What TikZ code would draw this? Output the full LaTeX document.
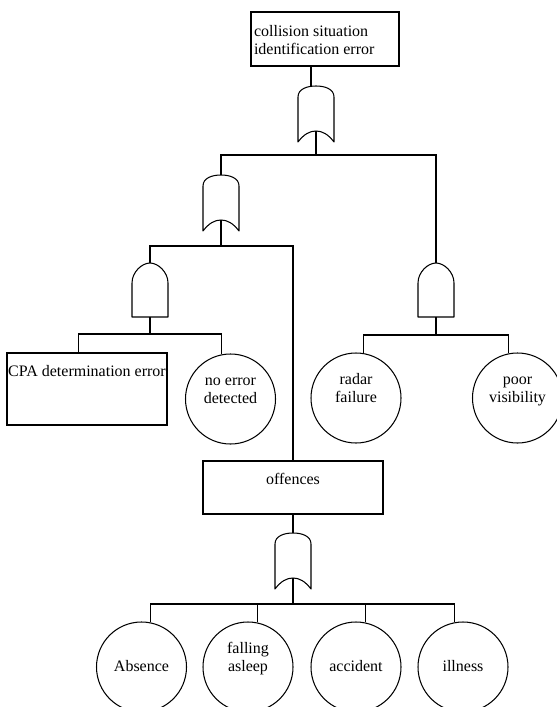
\documentclass[tikz,border=0pt]{standalone}
\usepackage{fontspec}
\setmainfont{Liberation Serif}
\newcommand\twoline[2]{\vbox{\halign{\hfil##\hfil\cr #1\cr #2\cr}}}
\tikzset{
  orgate/.pic={
    \coordinate (-top) at (0,0);
    \coordinate (-topl) at (-5,0.6);
    \coordinate (-in) at (0,45);
    \draw[line join=round] (-18,56) -- (-18,11) .. controls (-18,3) and (-9,0) .. (0,0)
      .. controls (9,0) and (18,3) .. (18,11) -- (18,56)
      .. controls (12,48) and (6,45) .. (0,45)
      .. controls (-6,45) and (-12,48) .. (-18,56) -- cycle;
  },
  andgate/.pic={
    \coordinate (-top) at (0,0);
    \coordinate (-in) at (0,54);
    \draw[line join=round] (-18,54) -- (-18,20) .. controls (-18,9) and (-8,0) .. (0,0)
      .. controls (8,0) and (18,9) .. (18,20) -- (18,54) -- cycle;
  }
}
\begin{document}
\begin{tikzpicture}[x=1pt,y=-1pt,line width=1.05pt,
  every node/.style={font=\fontsize{16}{18.4}\selectfont},
  box/.style={draw,rectangle,inner sep=0pt},
  ev/.style={draw,circle,minimum size=90pt,inner sep=0pt,text height=9pt,text depth=0pt}]
\useasboundingbox (0,0) rectangle (557,707);

% boxes
\node[box,minimum width=148pt,minimum height=54pt,inner xsep=3pt,text height=31pt,text depth=0pt]
  (top) at (325,39) {\makebox[142pt][l]{\vbox{\hbox{collision situation}\hbox{identification error}}}};
\node[box,minimum width=160pt,minimum height=72pt,text height=0pt,text depth=26pt]
  (cpa) at (87,389) {CPA determination error};
\node[box,minimum width=180pt,minimum height=53pt,text height=0pt,text depth=7pt]
  (off) at (293,487.5) {offences};

% events
\node[ev] (noerr) at (230.5,399) {\twoline{no error}{detected}};
\node[ev] (radar) at (356,398) {\twoline{radar}{failure}};
\node[ev] (poor) at (517.5,398) {\twoline{poor}{visibility}};
\node[ev] (abs) at (141.5,667) {Absence};
\node[ev] (fall) at (248,667) {\twoline{falling}{asleep}};
\node[ev] (acc) at (356,667) {accident};
\node[ev] (ill) at (463,667) {illness};

% gates
\pic (g1) at (316,86) {orgate};
\pic (g2) at (221,175) {orgate};
\pic (g3) at (150,263) {andgate};
\pic (g4) at (436,263) {andgate};
\pic (g5) at (293,533) {orgate};

% connectors
\draw (g1-topl |- top.south) -- (g1-topl);
\coordinate (b1) at (316,155);
\draw (g1-in) -- (b1);
\draw (g2-top) |- (b1) -| (g4-top);

\coordinate (b2) at (221,246);
\draw (g2-in) -- (b2);
\draw (g3-top) |- (b2) -| (off.north);

\coordinate (b3) at (150,334);
\coordinate (cpaup) at ([xshift=72pt]cpa.north west);
\draw (g3-in) -- (b3);
\draw (cpaup) |- (b3) -| (noerr.102);

\coordinate (b4) at (436,335);
\draw (g4-in) -- (b4);
\draw (radar.80) |- (b4) -| (poor.102);

\draw (off.south) -- (g5-top);
\coordinate (b5) at (293,604);
\draw (g5-in) -- (b5);
\draw (abs.79) |- (b5) -| (ill.101);
\draw (fall.78) -- (fall.78 |- b5);
\draw (acc.78) -- (acc.78 |- b5);
\end{tikzpicture}
\end{document}
